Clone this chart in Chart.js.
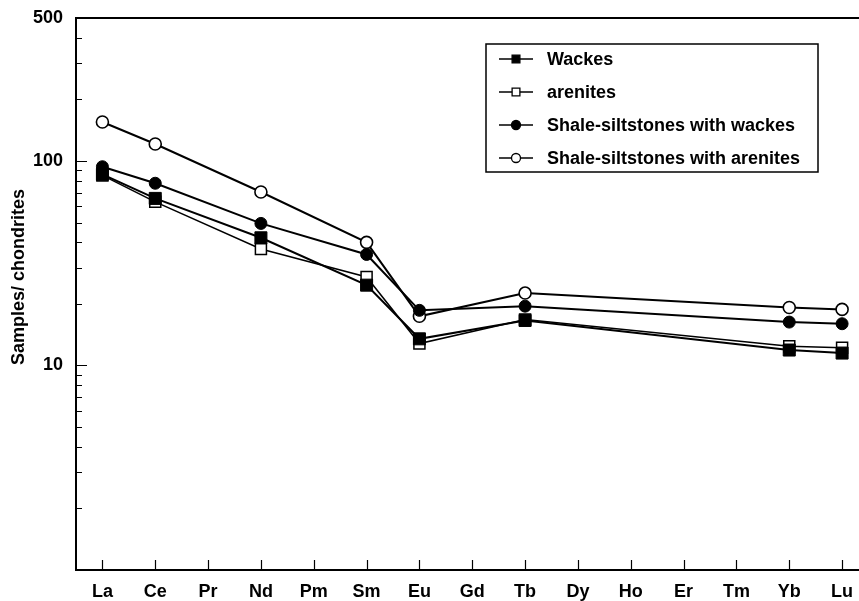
<!DOCTYPE html>
<html>
<head>
<meta charset="utf-8">
<script src="https://cdn.jsdelivr.net/npm/chart.js@4.4.0/dist/chart.umd.min.js"></script>
<style>
    html, body { margin: 0; padding: 0; background: #fff; }
    #wrap { width: 859px; height: 601px; }
</style>
</head>
<body>
<div id="wrap"><canvas id="reeChart"></canvas></div>
<script>
// Элементы по оси X
const elements = ['La', 'Ce', 'Pr', 'Nd', 'Pm', 'Sm', 'Eu', 'Gd', 'Tb', 'Dy', 'Ho', 'Er', 'Tm', 'Yb', 'Lu'];

// Нормированные значения (null = нет данных)
const wackes        = [86,  65.6, null, 42.1, null, 24.7, 13.5, null, 16.6, null, null, null, null, 11.9, 11.5];
const arenites      = [85,  63.1, null, 37.1, null, 27.1, 12.8, null, 16.8, null, null, null, null, 12.4, 12.2];
const shaleWackes   = [93.7, 77.8, null, 49.5, null, 34.9, 18.6, null, 19.5, null, null, null, null, 16.3, 16.0];
const shaleArenites = [155, 121,  null, 70.5, null, 40,   17.4, null, 22.6, null, null, null, null, 19.2, 18.8];

// Деления оси Y и подписи
const yTicks = [1, 2, 3, 4, 5, 6, 7, 8, 9, 10, 20, 30, 40, 50, 60, 70, 80, 90, 100, 200, 300, 400, 500];
const yLabels = [10, 100, 500];
const yTitle = 'Samples/ chondrites';

const FONT = "'Liberation Sans', Arial, Helvetica, sans-serif";

function toPoints(arr) {
    return arr.map((v, i) => (v === null ? null : { x: i, y: v })).filter(p => p !== null);
}

// Рамка сверху, внутренние деления и подпись оси Y
const framePlugin = {
    id: 'frame',
    beforeDatasetsDraw(chart) {
        const ctx = chart.ctx;
        const area = chart.chartArea;
        const xs = chart.scales.x;
        const ys = chart.scales.y;
        ctx.save();
        ctx.strokeStyle = '#000';
        ctx.lineWidth = 2;
        ctx.beginPath();
        ctx.moveTo(area.left, area.top);
        ctx.lineTo(chart.width, area.top);
        ctx.stroke();

        ctx.lineWidth = 1.2;
        ctx.beginPath();
        yTicks.forEach(v => {
            const y = Math.round(ys.getPixelForValue(v)) + 0.5;
            const len = (v === 10 || v === 100) ? 11 : 6;
            ctx.moveTo(area.left, y);
            ctx.lineTo(area.left + len, y);
        });
        elements.forEach((_, i) => {
            const x = Math.round(xs.getPixelForValue(i)) + 0.5;
            ctx.moveTo(x, area.bottom);
            ctx.lineTo(x, area.bottom - 10);
        });
        ctx.stroke();

        // подпись оси Y
        ctx.translate(19, area.top + 259);
        ctx.rotate(-Math.PI / 2);
        ctx.fillStyle = '#000';
        ctx.font = 'bold 18px ' + FONT;
        ctx.textAlign = 'center';
        ctx.textBaseline = 'middle';
        ctx.fillText(yTitle, 0, 0);
        ctx.restore();
    }
};

// Легенда в рамке
const legendPlugin = {
    id: 'boxLegend',
    afterDraw(chart) {
        const ctx = chart.ctx;
        const area = chart.chartArea;
        const x0 = area.left + 410;
        const y0 = 44;
        const w = 332;
        const h = 128;
        ctx.save();
        ctx.fillStyle = '#fff';
        ctx.fillRect(x0, y0, w, h);
        ctx.strokeStyle = '#000';
        ctx.lineWidth = 1.5;
        ctx.strokeRect(x0, y0, w, h);

        chart.data.datasets.forEach((ds, i) => {
            const y = y0 + 15 + i * 33;
            ctx.strokeStyle = '#000';
            ctx.lineWidth = 1.5;
            ctx.beginPath();
            ctx.moveTo(x0 + 13, y);
            ctx.lineTo(x0 + 47, y);
            ctx.stroke();
            ctx.fillStyle = ds.pointBackgroundColor;
            ctx.strokeStyle = '#000';
            ctx.lineWidth = 1.3;
            Chart.helpers.drawPoint(ctx, {
                pointStyle: ds.pointStyle,
                radius: ds.pointStyle === 'rect' ? 5.5 : 4.5,
                rotation: 0,
                borderWidth: 1.3
            }, x0 + 30, y);
            ctx.fillStyle = '#000';
            ctx.font = 'bold 18px ' + FONT;
            ctx.textBaseline = 'middle';
            ctx.textAlign = 'left';
            ctx.fillText(ds.label, x0 + 61, y + 1);
        });
        ctx.restore();
    }
};

function createChart() {
    const ctx = document.getElementById('reeChart').getContext('2d');
    new Chart(ctx, {
        type: 'line',
        data: {
            datasets: [
                {
                    label: 'Wackes',
                    data: toPoints(wackes),
                    borderColor: '#000',
                    borderWidth: 2,
                    pointStyle: 'rect',
                    pointRadius: 8.5,
                    pointBackgroundColor: '#000',
                    pointBorderColor: '#000',
                    pointBorderWidth: 1
                },
                {
                    label: 'arenites',
                    data: toPoints(arenites),
                    borderColor: '#000',
                    borderWidth: 1.5,
                    pointStyle: 'rect',
                    pointRadius: 7.8,
                    pointBackgroundColor: '#fff',
                    pointBorderColor: '#000',
                    pointBorderWidth: 1.5
                },
                {
                    label: 'Shale-siltstones with wackes',
                    data: toPoints(shaleWackes),
                    borderColor: '#000',
                    borderWidth: 2,
                    pointStyle: 'circle',
                    pointRadius: 6,
                    pointBackgroundColor: '#000',
                    pointBorderColor: '#000',
                    pointBorderWidth: 1
                },
                {
                    label: 'Shale-siltstones with arenites',
                    data: toPoints(shaleArenites),
                    borderColor: '#000',
                    borderWidth: 2,
                    pointStyle: 'circle',
                    pointRadius: 6,
                    pointBackgroundColor: '#fff',
                    pointBorderColor: '#000',
                    pointBorderWidth: 1.6
                }
            ]
        },
        options: {
            responsive: false,
            animation: false,
            devicePixelRatio: 1,
            layout: { autoPadding: false, padding: { top: 18, right: 0, left: 0, bottom: 0 } },
            plugins: {
                legend: { display: false },
                tooltip: { enabled: false }
            },
            elements: { line: { tension: 0 } },
            scales: {
                x: {
                    type: 'linear',
                    min: -0.5,
                    max: 14.32,
                    grid: { display: false },
                    border: { display: true, color: '#000', width: 2 },
                    afterBuildTicks: (scale) => {
                        scale.ticks = elements.map((_, i) => ({ value: i }));
                    },
                    afterFit: (scale) => {
                        scale.height = 31;
                        scale.paddingLeft = 0;
                        scale.paddingRight = 0;
                    },
                    ticks: {
                        autoSkip: false,
                        maxRotation: 0,
                        padding: 3,
                        color: '#000',
                        font: { family: FONT, size: 18, weight: 'bold' },
                        callback: (v) => elements[v] || ''
                    }
                },
                y: {
                    type: 'logarithmic',
                    min: 1,
                    max: 500,
                    grid: { display: false },
                    border: { display: true, color: '#000', width: 2 },
                    afterBuildTicks: (scale) => {
                        scale.ticks = yTicks.map(v => ({ value: v }));
                    },
                    afterFit: (scale) => {
                        scale.width = 76;
                        scale.paddingTop = 0;
                        scale.paddingBottom = 0;
                    },
                    ticks: {
                        autoSkip: false,
                        padding: 5,
                        color: '#000',
                        font: { family: FONT, size: 18, weight: 'bold' },
                        callback: (v) => (yLabels.includes(v) ? String(v) : '')
                    }
                }
            }
        },
        plugins: [framePlugin, legendPlugin]
    });
}

const canvas = document.getElementById('reeChart');
canvas.width = 859;
canvas.height = 601;
createChart();
</script>
</body>
</html>
